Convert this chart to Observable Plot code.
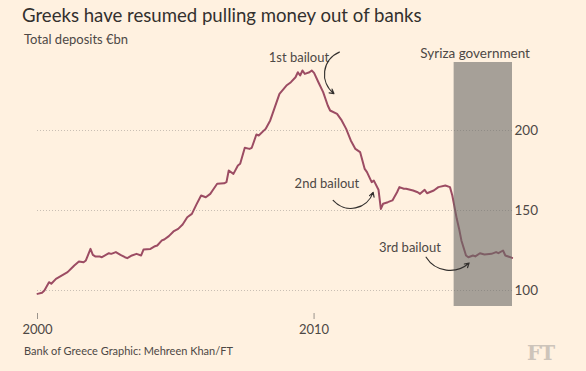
<!DOCTYPE html>
<html>
<head>
<meta charset="utf-8">
<script src="https://cdn.jsdelivr.net/npm/d3@7"></script>
<script src="https://cdn.jsdelivr.net/npm/@observablehq/plot@0.6"></script>
<style>
  html, body { margin: 0; padding: 0; background: #fff1e0; }
  #wrap { position: relative; width: 586px; height: 371px; background: #fff1e0; overflow: hidden; font-family: Lato, "Open Sans", sans-serif; }
  #wrap svg { position: absolute; left: 0; top: 0; }
  .t { position: absolute; white-space: nowrap; }
  #title { left: 22px; top: 4px; font-size: 18.6px; color: #33302e; }
  #subtitle { left: 24px; top: 31px; font-size: 13px; color: #4d4845; }
  #source { left: 24px; top: 344px; font-size: 11px; color: #4d4845; }
  #logo { left: 527px; top: 341px; font-size: 20px; font-weight: bold; color: #cdc4ba; font-family: "DejaVu Serif", "Liberation Serif", serif; letter-spacing: -1px; }
</style>
</head>
<body>
<div id="wrap">
  <div class="t" id="title">Greeks have resumed pulling money out of banks</div>
  <div class="t" id="subtitle">Total deposits €bn</div>
  <div class="t" id="source">Bank of Greece Graphic: Mehreen Khan/FT</div>
  <div class="t" id="logo">FT</div>
</div>
<script>
// Total deposits in Greek banks, €bn
const months = [
  "2000-01","2000-03","2000-04","2000-06","2000-07","2000-09","2000-12",
  "2001-02","2001-04","2001-05","2001-07","2001-09","2001-10","2001-12",
  "2002-01","2002-02","2002-04","2002-05","2002-08","2002-09","2002-11",
  "2003-01","2003-03","2003-04","2003-06","2003-08","2003-10","2003-11",
  "2004-02","2004-04","2004-05","2004-07","2004-08","2004-10","2004-12",
  "2005-02","2005-04","2005-06","2005-08","2005-10","2005-12",
  "2006-02","2006-04","2006-05","2006-07","2006-10","2006-11","2006-12",
  "2007-02","2007-04","2007-05","2007-07","2007-09","2007-10","2007-12",
  "2008-01","2008-04","2008-06","2008-07","2008-08","2008-10",
  "2009-01","2009-03","2009-05","2009-06","2009-07","2009-08","2009-09","2009-11","2009-12",
  "2010-01","2010-03","2010-05","2010-07","2010-08","2010-11",
  "2011-01","2011-03","2011-05","2011-07","2011-09","2011-11","2011-12",
  "2012-02","2012-03","2012-05","2012-06","2012-07","2012-09","2012-11",
  "2013-01","2013-02","2013-04","2013-05","2013-08","2013-10","2013-11",
  "2014-01","2014-02","2014-05","2014-07","2014-10","2014-12",
  "2015-01","2015-03","2015-04","2015-05","2015-07","2015-08","2015-10","2015-11",
  "2016-01","2016-03","2016-06","2016-08","2016-09","2016-11","2016-12",
  "2017-03"
];
const deposits = [
  97.9, 98.6, 100, 105.2, 104.2, 107.3, 109.8,
  111.5, 114.2, 115.6, 118.1, 117.7, 118.8, 126,
  122.3, 121.3, 121.2, 120.8, 123.3, 122.9, 124,
  122.3, 120.8, 120.2, 121.9, 122.9, 121.9, 125.6,
  126, 127.7, 128.1, 131.3, 131.9, 134, 136.9,
  138.5, 141.3, 145.8, 147.9, 153.8, 159.4,
  158.3, 160.4, 162.5, 166.7, 167, 167.7, 175,
  172.9, 178.1, 179.2, 189.2, 188.5, 189.2, 197.5,
  196.9, 201, 206.3, 210.4, 214.6, 222.9,
  228.1, 230.2, 233.3, 236.4, 234.4, 237.5, 235.4, 236.4, 237.5,
  236, 230, 224, 215.6, 212.5, 210.4,
  206.3, 201, 193.8, 188.5, 186.5, 176, 174,
  167.7, 168.7, 163, 151, 154.2, 155.2, 156.3,
  161.4, 164.6, 163.6, 163.6, 162.5, 161.4, 160.4,
  162.9, 160.8, 162.5, 164.6, 165.6, 164.6,
  159.4, 144.8, 138.5, 131.3, 121.9, 120.8, 121.9, 121.3,
  123.3, 122.5, 122.9, 124, 123.3, 125, 121.9,
  120.4
];
const xTicks = ["2000", "2010"];
const yTicks = [100, 150, 200];

const syrizaLabel = "Syriza government";
const syrizaStart = "2015-01-25";

const annLabels = ["1st bailout", "2nd bailout", "3rd bailout"];
const annTextAt = [["2009-06-15", 245.6], ["2010-06-20", 166.9], ["2013-06-20", 126.9]];
const annArrowFrom = [["2010-12-01", 249.0], ["2010-09-10", 156.3], ["2014-01-20", 120.8]];
const annArrowTo = [["2010-09-20", 223.1], ["2012-02-20", 161.3], ["2015-08-10", 117.2]];
const annBend = [-60, -60, -50];

const parse = d3.utcParse("%Y-%m");
const parseDay = d3.utcParse("%Y-%m-%d");
const series = months.map((m, i) => ({date: parse(m), value: deposits[i]}));
const endDate = d3.utcDay.offset(series[series.length - 1].date, 5);
const band = [{start: parseDay(syrizaStart), end: endDate}];
const ann = annLabels.map((label, i) => ({
  label,
  tx: parseDay(annTextAt[i][0]), ty: annTextAt[i][1],
  x1: parseDay(annArrowFrom[i][0]), y1: annArrowFrom[i][1],
  x2: parseDay(annArrowTo[i][0]), y2: annArrowTo[i][1],
  bend: annBend[i]
}));

const chart = Plot.plot({
  width: 586,
  height: 371,
  marginLeft: 37,
  marginRight: 74,
  marginTop: 62,
  marginBottom: 65,
  style: {background: "transparent", fontFamily: "Lato, 'Open Sans', sans-serif", overflow: "visible"},
  x: {type: "utc", domain: [parse("2000-01"), endDate]},
  y: {domain: [90, 242.5]},
  marks: [
    Plot.gridY(yTicks, {stroke: "#c9bfb4", strokeOpacity: 1, strokeDasharray: "1,2", strokeWidth: 1}),
    Plot.line(series, {x: "date", y: "value", stroke: "#9c4c63", strokeWidth: 2, curve: "linear"}),
    Plot.rect(band, {x1: "start", x2: "end", fill: "#6b6a68", fillOpacity: 0.6}),
    Plot.text([syrizaLabel], {x: band[0].start, y: 248.2, text: d => d, dx: 21, textAnchor: "middle", fontSize: 13.5, fill: "#4d4845"}),
    Plot.axisX({ticks: xTicks.map(y => d3.utcParse("%Y")(y)), tickFormat: "%Y", tickSize: 6, dy: 7, tickPadding: 5, fontSize: 13, color: "#4d4845", label: null, stroke: "#9b948c"}),
    Plot.axisY({ticks: yTicks, anchor: "right", tickSize: 0, tickPadding: 2, fontSize: 13.5, color: "#4d4845", label: null}),
    Plot.text(ann, {x: "tx", y: "ty", text: "label", textAnchor: "middle", fontSize: 13, fill: "#4d4845"}),
    ...ann.map(a => Plot.arrow([a], {x1: "x1", y1: "y1", x2: "x2", y2: "y2", bend: a.bend, stroke: "#33302e", strokeWidth: 1.2, headLength: 6}))
  ]
});
document.getElementById("wrap").prepend(chart);
</script>
</body>
</html>
